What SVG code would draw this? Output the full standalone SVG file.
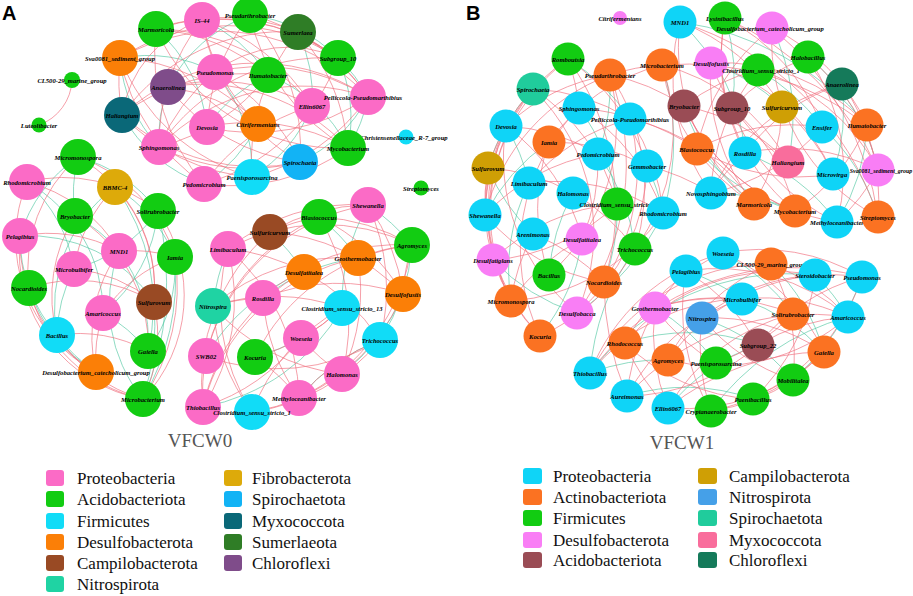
<svg xmlns="http://www.w3.org/2000/svg" width="913" height="596" viewBox="0 0 913 596">
<style>
.ep path{fill:none;stroke:#f0707f;stroke-width:0.9;opacity:0.75}
.eg path{fill:none;stroke:#4cc6a0;stroke-width:0.9;opacity:0.7}
.n text{font-family:"Liberation Serif",serif;font-style:italic;font-weight:bold;font-size:6.6px;fill:#000;text-anchor:middle}
.n text.sm{font-size:5.9px}
.lg text{font-family:"Liberation Serif",serif;font-size:17px;fill:#111}
.ttl{font-family:"Liberation Serif",serif;font-size:19px;fill:#555;text-anchor:middle}
.pl{font-family:"Liberation Sans",Arial,sans-serif;font-size:20px;font-weight:bold;fill:#000}
.ap{fill:#fb6bc6}.aa{fill:#12cc12}.af{fill:#11dcf7}.ad{fill:#fb7f07}.ac{fill:#994a24}.an{fill:#1fd3a3}.afi{fill:#ddaa0a}.as{fill:#12b3f5}.am{fill:#0a6878}.asu{fill:#2f7d26}.ach{fill:#7f4c8a}
.bp{fill:#0fd4f7}.bac{fill:#fb7222}.bf{fill:#12cc12}.bd{fill:#f97ef5}.bab{fill:#9a4c55}.bc{fill:#cf9f05}.bn{fill:#45a0e8}.bs{fill:#20cc9c}.bm{fill:#f96d9c}.bch{fill:#157a5a}
</style>
<rect width="913" height="596" fill="#fff"/>
<text class="pl" x="2" y="20">A</text>
<text class="pl" x="466" y="20">B</text>
<g id="connectors">
<g class="eg">
<path d="M156 29A150 150 0 0 1 207 127"/><path d="M120 58A150 150 0 0 1 215 72"/><path d="M202 20A150 150 0 0 1 268 75"/><path d="M250 15A150 150 0 0 0 168 87"/><path d="M298 32A150 150 0 0 1 312 106"/><path d="M338 58A150 150 0 0 1 368 97"/><path d="M338 58A150 150 0 0 1 348 148"/><path d="M368 97A150 150 0 0 1 348 148"/><path d="M368 97A150 150 0 0 1 300 162"/><path d="M312 106A150 150 0 0 1 252 177"/><path d="M258 124A150 150 0 0 1 204 184"/><path d="M168 87A150 150 0 0 0 159 147"/><path d="M122 115A150 150 0 0 0 204 184"/><path d="M207 127A150 150 0 0 1 268 75"/><path d="M268 75A150 150 0 0 1 348 148"/><path d="M250 15A150 150 0 0 1 338 58"/><path d="M215 72A150 150 0 0 1 252 177"/><path d="M120 58A150 150 0 0 0 159 147"/>
<path d="M78 157A150 150 0 0 1 158 211"/><path d="M78 157A150 150 0 0 0 75 216"/><path d="M115 187A150 150 0 0 1 175 257"/><path d="M27 182A150 150 0 0 1 103 313"/><path d="M20 236A150 150 0 0 1 154 302"/><path d="M75 216A150 150 0 0 1 119 251"/><path d="M74 269A150 150 0 0 0 57 335"/><path d="M29 288A150 150 0 0 0 96 372"/><path d="M119 251A150 150 0 0 1 148 351"/><path d="M158 211A150 150 0 0 1 103 313"/><path d="M175 257A150 150 0 0 1 148 351"/><path d="M175 257A250 250 0 0 1 143 399"/><path d="M154 302A250 250 0 0 1 143 399"/><path d="M57 335A150 150 0 0 0 96 372"/><path d="M78 157A150 150 0 0 0 20 236"/><path d="M115 187A150 150 0 0 0 57 335"/><path d="M27 182A150 150 0 0 1 74 269"/><path d="M119 251A150 150 0 0 0 143 399"/><path d="M103 313A150 150 0 0 1 148 351"/><path d="M158 211A150 150 0 0 1 74 269"/><path d="M20 236A150 150 0 0 0 57 335"/><path d="M158 211A300 300 0 0 1 143 399"/><path d="M115 187A200 200 0 0 1 148 351"/>
<path d="M368 205A200 200 0 0 1 412 245"/><path d="M319 217A200 200 0 0 1 358 258"/><path d="M270 232A200 200 0 0 1 304 272"/><path d="M412 245A200 200 0 0 1 380 340"/><path d="M403 294A200 200 0 0 1 342 374"/><path d="M358 258A200 200 0 0 0 263 298"/><path d="M342 308A200 200 0 0 1 203 407"/><path d="M304 272A200 200 0 0 0 206 356"/><path d="M228 249A200 200 0 0 0 213 306"/><path d="M299 398A200 200 0 0 1 380 340"/><path d="M255 357A200 200 0 0 0 301 338"/><path d="M368 205A200 200 0 0 0 342 308"/>
<path d="M568 59A200 200 0 0 1 630 119"/><path d="M533 89A200 200 0 0 0 488 168"/><path d="M579 108A200 200 0 0 1 617 204"/><path d="M506 126A200 200 0 0 1 529 183"/><path d="M549 142A200 200 0 0 0 485 215"/><path d="M598 154A200 200 0 0 1 635 249"/><path d="M488 168A200 200 0 0 0 533 234"/><path d="M529 183A200 200 0 0 0 511 301"/><path d="M573 193A200 200 0 0 0 549 275"/><path d="M617 204A200 200 0 0 1 604 282"/><path d="M647 166A200 200 0 0 1 663 213"/><path d="M582 239A200 200 0 0 1 540 336"/><path d="M610 75A200 200 0 0 1 598 154"/><path d="M662 65A250 250 0 0 1 663 213"/><path d="M493 260A200 200 0 0 0 577 313"/><path d="M663 213A250 250 0 0 1 577 313"/>
<path d="M680 22A200 200 0 0 1 745 153"/><path d="M725 18A200 200 0 0 1 732 108"/><path d="M772 28A200 200 0 0 1 788 162"/><path d="M711 63A200 200 0 0 1 782 107"/><path d="M808 57A200 200 0 0 1 878 170"/><path d="M842 84A200 200 0 0 1 833 174"/><path d="M684 106A200 200 0 0 0 754 204"/><path d="M822 127A200 200 0 0 1 878 217"/><path d="M697 149A200 200 0 0 0 795 211"/><path d="M867 125A200 200 0 0 1 837 222"/><path d="M758 70A200 200 0 0 1 822 127"/><path d="M680 22A300 300 0 0 1 867 125"/><path d="M745 153A200 200 0 0 1 837 222"/><path d="M711 193A200 200 0 0 1 795 211"/>
<path d="M686 271A200 200 0 0 1 742 299"/><path d="M723 253A200 200 0 0 1 793 314"/><path d="M771 264A200 200 0 0 1 824 352"/><path d="M815 275A200 200 0 0 1 848 317"/><path d="M655 308A200 200 0 0 1 716 363"/><path d="M702 318A200 200 0 0 1 793 380"/><path d="M625 343A200 200 0 0 1 758 345"/><path d="M590 373A200 200 0 0 1 668 360"/><path d="M627 396A200 200 0 0 1 753 399"/><path d="M668 408A200 200 0 0 1 758 345"/><path d="M742 299A200 200 0 0 1 824 352"/><path d="M862 277A250 250 0 0 1 793 380"/><path d="M590 373A250 250 0 0 1 815 275"/><path d="M711 411A250 250 0 0 1 848 317"/><path d="M635 249A250 250 0 0 0 590 373"/>
</g>
<g class="ep">
<path d="M72 80A50 50 0 0 1 39 125"/>
<path d="M202 20A200 200 0 0 1 338 58"/><path d="M202 20A200 200 0 0 1 312 106"/><path d="M250 15A200 200 0 0 1 368 97"/><path d="M156 29A200 200 0 0 1 298 32"/><path d="M156 29A200 200 0 0 1 268 75"/><path d="M120 58A200 200 0 0 1 338 58"/><path d="M120 58A200 200 0 0 1 258 124"/><path d="M120 58A200 200 0 0 0 204 184"/><path d="M168 87A200 200 0 0 1 312 106"/><path d="M168 87A200 200 0 0 1 348 148"/><path d="M168 87A200 200 0 0 0 300 162"/><path d="M215 72A200 200 0 0 1 368 97"/><path d="M215 72A200 200 0 0 0 159 147"/><path d="M215 72A200 200 0 0 1 300 162"/><path d="M122 115A200 200 0 0 1 298 32"/><path d="M122 115A200 200 0 0 0 252 177"/><path d="M122 115A200 200 0 0 1 268 75"/><path d="M207 127A200 200 0 0 1 348 148"/><path d="M207 127A200 200 0 0 1 250 15"/><path d="M159 147A200 200 0 0 1 202 20"/><path d="M159 147A200 200 0 0 0 300 162"/><path d="M159 147A200 200 0 0 1 338 58"/><path d="M204 184A200 200 0 0 1 156 29"/><path d="M204 184A200 200 0 0 1 312 106"/><path d="M204 184A200 200 0 0 0 348 148"/><path d="M252 177A200 200 0 0 1 120 58"/><path d="M252 177A200 200 0 0 0 368 97"/><path d="M300 162A200 200 0 0 1 202 20"/><path d="M300 162A200 200 0 0 1 122 115"/><path d="M348 148A200 200 0 0 1 250 15"/><path d="M348 148A200 200 0 0 1 156 29"/><path d="M368 97A200 200 0 0 0 298 32"/><path d="M368 97A200 200 0 0 1 207 127"/><path d="M312 106A200 200 0 0 0 156 29"/><path d="M338 58A200 200 0 0 1 204 184"/><path d="M298 32A200 200 0 0 1 348 148"/><path d="M258 124A200 200 0 0 0 168 87"/><path d="M258 124A200 200 0 0 1 202 20"/><path d="M268 75A200 200 0 0 1 159 147"/><path d="M250 15A200 200 0 0 1 300 162"/><path d="M202 20A120 120 0 0 0 122 115"/><path d="M215 72A120 120 0 0 1 338 58"/><path d="M120 58A200 200 0 0 1 368 97"/><path d="M122 115A200 200 0 0 1 368 97"/><path d="M159 147A200 200 0 0 1 368 97"/><path d="M156 29A200 200 0 0 1 338 58"/><path d="M120 58A200 200 0 0 0 122 115"/><path d="M298 32A200 200 0 0 0 252 177"/>
<path d="M27 182A150 150 0 0 1 158 211"/><path d="M27 182A150 150 0 0 0 96 372"/><path d="M20 236A150 150 0 0 1 119 251"/><path d="M20 236A150 150 0 0 0 143 399"/><path d="M78 157A150 150 0 0 1 175 257"/><path d="M78 157A150 150 0 0 0 29 288"/><path d="M115 187A150 150 0 0 1 154 302"/><path d="M75 216A150 150 0 0 0 57 335"/><path d="M75 216A150 150 0 0 1 148 351"/><path d="M119 251A150 150 0 0 0 96 372"/><path d="M119 251A150 150 0 0 1 175 257"/><path d="M74 269A150 150 0 0 1 154 302"/><path d="M29 288A150 150 0 0 0 143 399"/><path d="M103 313A150 150 0 0 1 175 257"/><path d="M57 335A150 150 0 0 1 148 351"/><path d="M154 302A150 150 0 0 1 143 399"/><path d="M158 211A150 150 0 0 1 143 399"/><path d="M20 236A150 150 0 0 0 96 372"/><path d="M27 182A150 150 0 0 1 119 251"/><path d="M78 157A150 150 0 0 1 154 302"/><path d="M175 257A200 200 0 0 1 143 399"/><path d="M115 187A150 150 0 0 0 74 269"/><path d="M29 288A150 150 0 0 1 154 302"/><path d="M57 335A150 150 0 0 0 143 399"/><path d="M103 313A150 150 0 0 0 96 372"/>
<path d="M368 205A200 200 0 0 1 380 340"/><path d="M368 205A200 200 0 0 0 228 249"/><path d="M319 217A200 200 0 0 1 342 374"/><path d="M319 217A200 200 0 0 0 206 356"/><path d="M270 232A200 200 0 0 1 403 294"/><path d="M270 232A200 200 0 0 0 203 407"/><path d="M228 249A200 200 0 0 1 412 245"/><path d="M228 249A200 200 0 0 0 252 412"/><path d="M412 245A200 200 0 0 1 299 398"/><path d="M412 245A200 200 0 0 0 263 298"/><path d="M358 258A200 200 0 0 1 342 374"/><path d="M358 258A200 200 0 0 0 213 306"/><path d="M304 272A200 200 0 0 1 380 340"/><path d="M304 272A200 200 0 0 0 203 407"/><path d="M403 294A200 200 0 0 1 252 412"/><path d="M403 294A200 200 0 0 0 319 217"/><path d="M263 298A200 200 0 0 0 299 398"/><path d="M213 306A200 200 0 0 1 342 308"/><path d="M342 308A200 200 0 0 1 255 357"/><path d="M301 338A200 200 0 0 1 203 407"/><path d="M380 340A200 200 0 0 1 206 356"/><path d="M206 356A200 200 0 0 1 368 205"/><path d="M255 357A200 200 0 0 1 412 245"/><path d="M342 374A200 200 0 0 1 213 306"/><path d="M299 398A200 200 0 0 0 228 249"/><path d="M203 407A200 200 0 0 1 358 258"/><path d="M252 412A200 200 0 0 1 342 308"/><path d="M252 412A200 200 0 0 0 380 340"/><path d="M270 232A200 200 0 0 1 368 205"/><path d="M319 217A200 200 0 0 1 412 245"/><path d="M228 249A200 200 0 0 1 304 272"/><path d="M213 306A200 200 0 0 0 252 412"/><path d="M263 298A200 200 0 0 1 403 294"/><path d="M301 338A200 200 0 0 0 342 374"/><path d="M255 357A200 200 0 0 1 299 398"/><path d="M206 356A200 200 0 0 0 203 407"/><path d="M368 205A200 200 0 0 1 403 294"/><path d="M358 258A200 200 0 0 1 412 245"/><path d="M319 217A200 200 0 0 0 270 232"/><path d="M342 308A200 200 0 0 1 301 338"/><path d="M228 249A200 200 0 0 1 203 407"/><path d="M380 340A200 200 0 0 0 299 398"/><path d="M412 245A200 200 0 0 0 403 294"/><path d="M263 298A200 200 0 0 0 213 306"/>
<path d="M568 59A200 200 0 0 1 647 166"/><path d="M568 59A200 200 0 0 0 488 168"/><path d="M568 59A200 200 0 0 0 493 260"/><path d="M610 75A200 200 0 0 1 635 249"/><path d="M610 75A200 200 0 0 0 485 215"/><path d="M533 89A200 200 0 0 1 630 119"/><path d="M533 89A200 200 0 0 0 511 301"/><path d="M533 89A200 200 0 0 1 617 204"/><path d="M579 108A200 200 0 0 1 663 213"/><path d="M579 108A200 200 0 0 0 540 336"/><path d="M506 126A200 200 0 0 1 610 75"/><path d="M506 126A200 200 0 0 0 577 313"/><path d="M506 126A200 200 0 0 1 598 154"/><path d="M630 119A200 200 0 0 1 604 282"/><path d="M630 119A200 200 0 0 0 529 183"/><path d="M549 142A200 200 0 0 1 647 166"/><path d="M549 142A200 200 0 0 0 549 275"/><path d="M598 154A200 200 0 0 1 582 239"/><path d="M488 168A200 200 0 0 1 573 193"/><path d="M488 168A200 200 0 0 0 540 336"/><path d="M647 166A200 200 0 0 1 577 313"/><path d="M529 183A200 200 0 0 1 663 213"/><path d="M573 193A200 200 0 0 1 635 249"/><path d="M617 204A200 200 0 0 1 493 260"/><path d="M485 215A200 200 0 0 1 598 154"/><path d="M663 213A200 200 0 0 1 511 301"/><path d="M533 234A200 200 0 0 1 604 282"/><path d="M582 239A200 200 0 0 0 506 126"/><path d="M635 249A200 200 0 0 1 540 336"/><path d="M493 260A200 200 0 0 1 617 204"/><path d="M549 275A200 200 0 0 0 610 75"/><path d="M604 282A200 200 0 0 1 485 215"/><path d="M511 301A200 200 0 0 1 582 239"/><path d="M577 313A200 200 0 0 0 533 89"/><path d="M540 336A200 200 0 0 1 493 260"/><path d="M568 59A200 200 0 0 1 579 108"/><path d="M610 75A200 200 0 0 1 662 65"/><path d="M506 126A200 200 0 0 0 485 215"/><path d="M488 168A200 200 0 0 0 493 260"/><path d="M533 234A200 200 0 0 0 511 301"/><path d="M630 119A200 200 0 0 1 663 213"/><path d="M662 65A200 200 0 0 1 635 249"/><path d="M662 65A200 200 0 0 0 549 142"/><path d="M610 75A250 250 0 0 1 577 313"/><path d="M568 59A250 250 0 0 1 604 282"/><path d="M533 89A200 200 0 0 0 485 215"/><path d="M506 126A200 200 0 0 0 511 301"/>
<path d="M680 22A200 200 0 0 1 782 107"/><path d="M680 22A200 200 0 0 0 711 193"/><path d="M725 18A200 200 0 0 1 822 127"/><path d="M725 18A200 200 0 0 0 745 153"/><path d="M772 28A200 200 0 0 1 867 125"/><path d="M772 28A200 200 0 0 0 697 149"/><path d="M711 63A200 200 0 0 1 833 174"/><path d="M711 63A200 200 0 0 0 754 204"/><path d="M758 70A200 200 0 0 1 878 170"/><path d="M758 70A200 200 0 0 0 684 106"/><path d="M808 57A200 200 0 0 1 837 222"/><path d="M808 57A200 200 0 0 0 732 108"/><path d="M842 84A200 200 0 0 1 878 217"/><path d="M842 84A200 200 0 0 0 745 153"/><path d="M684 106A200 200 0 0 1 788 162"/><path d="M732 108A200 200 0 0 1 795 211"/><path d="M782 107A200 200 0 0 1 754 204"/><path d="M822 127A200 200 0 0 1 711 193"/><path d="M867 125A200 200 0 0 1 795 211"/><path d="M697 149A200 200 0 0 1 822 127"/><path d="M745 153A200 200 0 0 1 878 170"/><path d="M788 162A200 200 0 0 1 711 63"/><path d="M833 174A200 200 0 0 1 697 149"/><path d="M878 170A200 200 0 0 1 837 222"/><path d="M711 193A200 200 0 0 1 842 84"/><path d="M754 204A200 200 0 0 1 680 22"/><path d="M795 211A200 200 0 0 1 725 18"/><path d="M837 222A200 200 0 0 1 684 106"/><path d="M878 217A200 200 0 0 1 772 28"/><path d="M680 22A300 300 0 0 1 878 217"/><path d="M725 18A300 300 0 0 1 878 170"/><path d="M662 65A200 200 0 0 1 788 162"/><path d="M662 65A200 200 0 0 0 754 204"/><path d="M684 106A200 200 0 0 0 795 211"/><path d="M711 63A200 200 0 0 1 867 125"/><path d="M732 108A200 200 0 0 0 837 222"/><path d="M808 57A200 200 0 0 1 878 170"/><path d="M758 70A200 200 0 0 0 711 193"/><path d="M782 107A200 200 0 0 1 833 174"/><path d="M745 153A200 200 0 0 0 711 193"/><path d="M630 119A200 200 0 0 1 754 204"/><path d="M610 75A200 200 0 0 1 684 106"/><path d="M647 166A200 200 0 0 1 711 193"/><path d="M579 108A250 250 0 0 1 697 149"/><path d="M772 28A300 300 0 0 1 878 217"/><path d="M662 65A300 300 0 0 1 867 125"/>
<path d="M686 271A200 200 0 0 1 848 317"/><path d="M686 271A200 200 0 0 0 627 396"/><path d="M723 253A200 200 0 0 1 824 352"/><path d="M723 253A200 200 0 0 0 625 343"/><path d="M771 264A200 200 0 0 1 793 380"/><path d="M771 264A200 200 0 0 0 668 360"/><path d="M815 275A200 200 0 0 1 753 399"/><path d="M815 275A200 200 0 0 0 702 318"/><path d="M862 277A200 200 0 0 1 711 411"/><path d="M862 277A200 200 0 0 0 758 345"/><path d="M655 308A200 200 0 0 1 793 314"/><path d="M655 308A200 200 0 0 0 668 408"/><path d="M742 299A200 200 0 0 1 848 317"/><path d="M742 299A200 200 0 0 0 590 373"/><path d="M793 314A200 200 0 0 1 716 363"/><path d="M848 317A200 200 0 0 1 668 360"/><path d="M702 318A200 200 0 0 1 824 352"/><path d="M625 343A200 200 0 0 1 815 275"/><path d="M758 345A200 200 0 0 1 627 396"/><path d="M824 352A200 200 0 0 1 668 408"/><path d="M668 360A200 200 0 0 1 862 277"/><path d="M716 363A200 200 0 0 1 655 308"/><path d="M590 373A200 200 0 0 1 771 264"/><path d="M793 380A200 200 0 0 1 702 318"/><path d="M627 396A200 200 0 0 1 742 299"/><path d="M753 399A200 200 0 0 1 625 343"/><path d="M668 408A200 200 0 0 1 793 314"/><path d="M711 411A200 200 0 0 1 686 271"/><path d="M590 373A200 200 0 0 1 723 253"/><path d="M590 373A250 250 0 0 1 862 277"/><path d="M627 396A250 250 0 0 1 848 317"/><path d="M668 408A250 250 0 0 1 824 352"/><path d="M711 411A200 200 0 0 0 793 380"/><path d="M753 399A200 200 0 0 0 824 352"/><path d="M686 271A200 200 0 0 1 758 345"/><path d="M655 308A200 200 0 0 1 742 299"/><path d="M723 253A200 200 0 0 1 862 277"/><path d="M771 264A200 200 0 0 1 848 317"/><path d="M702 318A200 200 0 0 0 711 411"/><path d="M758 345A200 200 0 0 1 848 317"/><path d="M625 343A200 200 0 0 0 668 408"/><path d="M604 282A300 300 0 0 0 627 396"/>
</g>
</g>
<g class="n">
<g id="a-is44"><circle class="ap" cx="202" cy="20" r="18"/><text x="202" y="22.5">IS-44</text></g>
<g id="a-pseudarthrobacter"><circle class="aa" cx="250" cy="15" r="18"/><text x="250" y="17.5">Pseudarthrobacter</text></g>
<g id="a-marmoricola"><circle class="aa" cx="156" cy="29" r="18"/><text x="156" y="31.5">Marmoricola</text></g>
<g id="a-sumerlaea"><circle class="asu" cx="298" cy="32" r="18"/><text x="298" y="34.5">Sumerlaea</text></g>
<g id="a-sva0081"><circle class="ad" cx="120" cy="58" r="18"/><text x="120" y="60.5">Sva0081_sediment_group</text></g>
<g id="a-subgroup10"><circle class="aa" cx="338" cy="58" r="18"/><text x="338" y="60.5">Subgroup_10</text></g>
<g id="a-pseudomonas"><circle class="ap" cx="215" cy="72" r="18"/><text x="215" y="74.5">Pseudomonas</text></g>
<g id="a-ilumatobacter"><circle class="aa" cx="268" cy="75" r="18"/><text x="268" y="77.5">Ilumatobacter</text></g>
<g id="a-anaerolinea"><circle class="ach" cx="168" cy="87" r="18"/><text x="168" y="89.5">Anaerolinea</text></g>
<g id="a-cl500"><circle class="aa" cx="72" cy="80" r="8"/><text x="72" y="82.5">CL500-29_marine_group</text></g>
<g id="a-luteolibacter"><circle class="aa" cx="39" cy="125" r="7.5"/><text x="39" y="127.5">Luteolibacter</text></g>
<g id="a-ellin6067"><circle class="ap" cx="312" cy="106" r="18"/><text x="312" y="108.5">Ellin6067</text></g>
<g id="a-pelliccola"><circle class="ap" cx="368" cy="97" r="18"/><text x="363" y="99.5">Pelliccola-Pseudomarthibius</text></g>
<g id="a-haliangium"><circle class="am" cx="122" cy="115" r="18"/><text x="122" y="117.5">Haliangium</text></g>
<g id="a-devosia"><circle class="ap" cx="207" cy="127" r="18"/><text x="207" y="129.5">Devosia</text></g>
<g id="a-citrifermentans"><circle class="ad" cx="258" cy="124" r="18"/><text x="258" y="126.5">Citrifermentans</text></g>
<g id="a-christensenellaceae"><circle class="af" cx="406" cy="137" r="7.5"/><text x="404" y="139.5">Christensenellaceae_R-7_group</text></g>
<g id="a-mycobacterium"><circle class="aa" cx="348" cy="148" r="18"/><text x="348" y="150.5">Mycobacterium</text></g>
<g id="a-sphingomonas"><circle class="ap" cx="159" cy="147" r="18"/><text x="159" y="149.5">Sphingomonas</text></g>
<g id="a-spirochaeta"><circle class="as" cx="300" cy="162" r="18"/><text x="300" y="164.5">Spirochaeta</text></g>
<g id="a-paenisporosarcina"><circle class="af" cx="252" cy="177" r="18"/><text x="252" y="179.5">Paenisporosarcina</text></g>
<g id="a-pedomicrobium"><circle class="ap" cx="204" cy="184" r="18"/><text x="204" y="186.5">Pedomicrobium</text></g>
<g id="a-streptomyces"><circle class="aa" cx="421" cy="188" r="7.5"/><text x="421" y="190.5">Streptomyces</text></g>
<g id="a-micromonospora"><circle class="aa" cx="78" cy="157" r="18"/><text x="78" y="159.5">Micromonospora</text></g>
<g id="a-bbmc4"><circle class="afi" cx="115" cy="187" r="18"/><text x="115" y="189.5">BBMC-4</text></g>
<g id="a-rhodomicrobium"><circle class="ap" cx="27" cy="182" r="18"/><text x="27" y="184.5">Rhodomicrobium</text></g>
<g id="a-bryobacter"><circle class="aa" cx="75" cy="216" r="18"/><text x="75" y="218.5">Bryobacter</text></g>
<g id="a-solirubrobacter"><circle class="aa" cx="158" cy="211" r="18"/><text x="158" y="213.5">Solirubrobacter</text></g>
<g id="a-pelagibius"><circle class="ap" cx="20" cy="236" r="18"/><text x="20" y="238.5">Pelagibius</text></g>
<g id="a-mnd1"><circle class="ap" cx="119" cy="251" r="18"/><text x="119" y="253.5">MND1</text></g>
<g id="a-iamia"><circle class="aa" cx="175" cy="257" r="18"/><text x="175" y="259.5">Iamia</text></g>
<g id="a-microbulbifer"><circle class="ap" cx="74" cy="269" r="18"/><text x="74" y="271.5">Microbulbifer</text></g>
<g id="a-nocardioides"><circle class="aa" cx="29" cy="288" r="18"/><text x="29" y="290.5">Nocardioides</text></g>
<g id="a-sulfurovum"><circle class="ac" cx="154" cy="302" r="18"/><text x="154" y="304.5">Sulfurovum</text></g>
<g id="a-amaricoccus"><circle class="ap" cx="103" cy="313" r="18"/><text x="103" y="315.5">Amaricoccus</text></g>
<g id="a-bacillus"><circle class="af" cx="57" cy="335" r="18"/><text x="57" y="337.5">Bacillus</text></g>
<g id="a-gaiella"><circle class="aa" cx="148" cy="351" r="18"/><text x="148" y="353.5">Gaiella</text></g>
<g id="a-desulfobacterium"><circle class="ad" cx="96" cy="372" r="18"/><text x="96" y="374.5">Desulfobacterium_catecholicum_group</text></g>
<g id="a-microbacterium"><circle class="aa" cx="143" cy="399" r="18"/><text x="143" y="401.5">Microbacterium</text></g>
<g id="a-shewanella"><circle class="ap" cx="368" cy="205" r="18"/><text x="368" y="207.5">Shewanella</text></g>
<g id="a-blastococcus"><circle class="aa" cx="319" cy="217" r="18"/><text x="319" y="219.5">Blastococcus</text></g>
<g id="a-sulfuricurvum"><circle class="ac" cx="270" cy="232" r="18"/><text x="270" y="234.5">Sulfuricurvum</text></g>
<g id="a-limibaculum"><circle class="ap" cx="228" cy="249" r="18"/><text x="228" y="251.5">Limibaculum</text></g>
<g id="a-agromyces"><circle class="aa" cx="412" cy="245" r="18"/><text x="412" y="247.5">Agromyces</text></g>
<g id="a-geothermobacter"><circle class="ad" cx="358" cy="258" r="18"/><text x="358" y="260.5">Geothermobacter</text></g>
<g id="a-desulfatitalea"><circle class="ad" cx="304" cy="272" r="18"/><text x="304" y="274.5">Desulfatitalea</text></g>
<g id="a-desulfofustis"><circle class="ad" cx="403" cy="294" r="18"/><text x="403" y="296.5">Desulfofustis</text></g>
<g id="a-rosdilla"><circle class="ap" cx="263" cy="298" r="18"/><text x="263" y="300.5">Rosdilla</text></g>
<g id="a-nitrospira"><circle class="an" cx="213" cy="306" r="18"/><text x="213" y="308.5">Nitrospira</text></g>
<g id="a-clostridium13"><circle class="af" cx="342" cy="308" r="18"/><text x="342" y="310.5">Clostridium_sensu_stricto_13</text></g>
<g id="a-woeseia"><circle class="ap" cx="301" cy="338" r="18"/><text x="301" y="340.5">Woeseia</text></g>
<g id="a-trichococcus"><circle class="af" cx="380" cy="340" r="18"/><text x="380" y="342.5">Trichococcus</text></g>
<g id="a-swb02"><circle class="ap" cx="206" cy="356" r="18"/><text x="206" y="358.5">SWB02</text></g>
<g id="a-kocuria"><circle class="aa" cx="255" cy="357" r="18"/><text x="255" y="359.5">Kocuria</text></g>
<g id="a-halomonas"><circle class="ap" cx="342" cy="374" r="18"/><text x="342" y="376.5">Halomonas</text></g>
<g id="a-methyloceanibacter"><circle class="ap" cx="299" cy="398" r="18"/><text x="299" y="400.5">Methyloceanibacter</text></g>
<g id="a-thiobacillus"><circle class="ap" cx="203" cy="407" r="18"/><text x="203" y="409.5">Thiobacillus</text></g>
<g id="a-clostridium1"><circle class="af" cx="252" cy="412" r="18"/><text x="252" y="414.5">Clostridium_sensu_stricto_1</text></g>

<g id="b-citrifermentans"><circle class="bd" cx="620" cy="18" r="7"/><text x="620" y="20.5">Citrifermentans</text></g>
<g id="b-mnd1"><circle class="bp" cx="680" cy="22" r="16.5"/><text x="680" y="24.5">MND1</text></g>
<g id="b-lysinibacillus"><circle class="bf" cx="725" cy="18" r="16.5"/><text x="725" y="20.5">Lysinibacillus</text></g>
<g id="b-desulfobacterium"><circle class="bd" cx="772" cy="28" r="16.5"/><text x="770" y="30.5">Desulfobacterium_catecholicum_group</text></g>
<g id="b-romboutsia"><circle class="bf" cx="568" cy="59" r="16.5"/><text x="568" y="61.5">Romboutsia</text></g>
<g id="b-pseudarthrobacter"><circle class="bac" cx="610" cy="75" r="16.5"/><text x="610" y="77.5">Pseudarthrobacter</text></g>
<g id="b-microbacterium"><circle class="bac" cx="662" cy="65" r="16.5"/><text x="662" y="67.5">Microbacterium</text></g>
<g id="b-desulfofustis"><circle class="bd" cx="711" cy="63" r="16.5"/><text x="711" y="65.5">Desulfofustis</text></g>
<g id="b-clostridium1"><circle class="bf" cx="758" cy="70" r="16.5"/><text x="761" y="72.5">Clostridium_sensu_stricto_1</text></g>
<g id="b-halobacillus"><circle class="bf" cx="808" cy="57" r="16.5"/><text x="808" y="59.5">Halobacillus</text></g>
<g id="b-anaerolinea"><circle class="bch" cx="842" cy="84" r="16.5"/><text x="842" y="86.5">Anaerolinea</text></g>
<g id="b-spirochaeta"><circle class="bs" cx="533" cy="89" r="16.5"/><text x="533" y="91.5">Spirochaeta</text></g>
<g id="b-sphingomonas"><circle class="bp" cx="579" cy="108" r="16.5"/><text x="579" y="110.5">Sphingomonas</text></g>
<g id="b-bryobacter"><circle class="bab" cx="684" cy="106" r="16.5"/><text x="684" y="108.5">Bryobacter</text></g>
<g id="b-subgroup10"><circle class="bab" cx="732" cy="108" r="16.5"/><text x="732" y="110.5">Subgroup_10</text></g>
<g id="b-sulfuricurvum"><circle class="bc" cx="782" cy="107" r="16.5"/><text x="782" y="109.5">Sulfuricurvum</text></g>
<g id="b-ensifer"><circle class="bp" cx="822" cy="127" r="16.5"/><text x="822" y="129.5">Ensifer</text></g>
<g id="b-ilumatobacter"><circle class="bac" cx="867" cy="125" r="16.5"/><text x="867" y="127.5">Ilumatobacter</text></g>
<g id="b-devosia"><circle class="bp" cx="506" cy="126" r="16.5"/><text x="506" y="128.5">Devosia</text></g>
<g id="b-pelliccola"><circle class="bp" cx="630" cy="119" r="16.5"/><text x="630" y="121.5">Pelliccola-Pseudomarthibius</text></g>
<g id="b-iamia"><circle class="bac" cx="549" cy="142" r="16.5"/><text x="549" y="144.5">Iamia</text></g>
<g id="b-blastococcus"><circle class="bac" cx="697" cy="149" r="16.5"/><text x="697" y="151.5">Blastococcus</text></g>
<g id="b-rosdilla"><circle class="bp" cx="745" cy="153" r="16.5"/><text x="745" y="155.5">Rosdilla</text></g>
<g id="b-haliangium"><circle class="bm" cx="788" cy="162" r="16.5"/><text x="788" y="164.5">Haliangium</text></g>
<g id="b-microvirga"><circle class="bp" cx="833" cy="174" r="16.5"/><text x="832" y="176.5">Microvirga</text></g>
<g id="b-sva0081"><circle class="bd" cx="878" cy="170" r="16.5"/><text class="sm" x="881" y="172.5">Sva0081_sediment_group</text></g>
<g id="b-pedomicrobium"><circle class="bp" cx="598" cy="154" r="16.5"/><text x="598" y="156.5">Pedomicrobium</text></g>
<g id="b-sulfurovum"><circle class="bc" cx="488" cy="168" r="16.5"/><text x="488" y="170.5">Sulfurovum</text></g>
<g id="b-gemmobacter"><circle class="bp" cx="647" cy="166" r="16.5"/><text x="647" y="168.5">Gemmobacter</text></g>
<g id="b-novosphingobium"><circle class="bp" cx="711" cy="193" r="16.5"/><text x="711" y="195.5">Novosphingobium</text></g>
<g id="b-marmoricola"><circle class="bac" cx="754" cy="204" r="16.5"/><text x="754" y="206.5">Marmoricola</text></g>
<g id="b-mycobacterium"><circle class="bac" cx="795" cy="211" r="16.5"/><text x="795" y="213.5">Mycobacterium</text></g>
<g id="b-methyloceanibacter"><circle class="bp" cx="837" cy="222" r="16.5"/><text x="837" y="224.5">Methyloceanibacter</text></g>
<g id="b-streptomyces"><circle class="bac" cx="878" cy="217" r="16.5"/><text x="878" y="219.5">Streptomyces</text></g>
<g id="b-limibaculum"><circle class="bp" cx="529" cy="183" r="16.5"/><text x="529" y="185.5">Limibaculum</text></g>
<g id="b-halomonas"><circle class="bp" cx="573" cy="193" r="16.5"/><text x="573" y="195.5">Halomonas</text></g>
<g id="b-clostridium13"><circle class="bf" cx="617" cy="204" r="16.5"/><text x="620" y="206.5">Clostridium_sensu_stricto_13</text></g>
<g id="b-shewanella"><circle class="bp" cx="485" cy="215" r="16.5"/><text x="485" y="217.5">Shewanella</text></g>
<g id="b-rhodomicrobium"><circle class="bp" cx="663" cy="213" r="16.5"/><text x="663" y="215.5">Rhodomicrobium</text></g>
<g id="b-arenimonas"><circle class="bp" cx="533" cy="234" r="16.5"/><text x="533" y="236.5">Arenimonas</text></g>
<g id="b-desulfatitalea"><circle class="bd" cx="582" cy="239" r="16.5"/><text x="582" y="241.5">Desulfatitalea</text></g>
<g id="b-trichococcus"><circle class="bf" cx="635" cy="249" r="16.5"/><text x="635" y="251.5">Trichococcus</text></g>
<g id="b-desulfatiglans"><circle class="bd" cx="493" cy="260" r="16.5"/><text x="493" y="262.5">Desulfatiglans</text></g>
<g id="b-bacillus"><circle class="bf" cx="549" cy="275" r="16.5"/><text x="549" y="277.5">Bacillus</text></g>
<g id="b-nocardioides"><circle class="bac" cx="604" cy="282" r="16.5"/><text x="604" y="284.5">Nocardioides</text></g>
<g id="b-micromonospora"><circle class="bac" cx="511" cy="301" r="16.5"/><text x="511" y="303.5">Micromonospora</text></g>
<g id="b-desulfobacca"><circle class="bd" cx="577" cy="313" r="16.5"/><text x="577" y="315.5">Desulfobacca</text></g>
<g id="b-kocuria"><circle class="bac" cx="540" cy="336" r="16.5"/><text x="540" y="338.5">Kocuria</text></g>
<g id="b-pelagibius"><circle class="bp" cx="686" cy="271" r="16.5"/><text x="686" y="273.5">Pelagibius</text></g>
<g id="b-woeseia"><circle class="bp" cx="723" cy="253" r="16.5"/><text x="723" y="255.5">Woeseia</text></g>
<g id="b-cl500"><circle class="bac" cx="771" cy="264" r="16.5"/><text x="771" y="266.5">CL500-29_marine_group</text></g>
<g id="b-steroidobacter"><circle class="bp" cx="815" cy="275" r="16.5"/><text x="815" y="277.5">Steroidobacter</text></g>
<g id="b-pseudomonas"><circle class="bp" cx="862" cy="277" r="16.5"/><text x="862" y="279.5">Pseudomonas</text></g>
<g id="b-geothermobacter"><circle class="bd" cx="655" cy="308" r="16.5"/><text x="655" y="310.5">Geothermobacter</text></g>
<g id="b-microbulbifer"><circle class="bp" cx="742" cy="299" r="16.5"/><text x="742" y="301.5">Microbulbifer</text></g>
<g id="b-solirubrobacter"><circle class="bac" cx="793" cy="314" r="16.5"/><text x="793" y="316.5">Solirubrobacter</text></g>
<g id="b-amaricoccus"><circle class="bp" cx="848" cy="317" r="16.5"/><text x="848" y="319.5">Amaricoccus</text></g>
<g id="b-nitrospira"><circle class="bn" cx="702" cy="318" r="16.5"/><text x="702" y="320.5">Nitrospira</text></g>
<g id="b-rhodococcus"><circle class="bac" cx="625" cy="343" r="16.5"/><text x="625" y="345.5">Rhodococcus</text></g>
<g id="b-subgroup22"><circle class="bab" cx="758" cy="345" r="16.5"/><text x="758" y="347.5">Subgroup_22</text></g>
<g id="b-gaiella"><circle class="bac" cx="824" cy="352" r="16.5"/><text x="824" y="354.5">Gaiella</text></g>
<g id="b-agromyces"><circle class="bac" cx="668" cy="360" r="16.5"/><text x="668" y="362.5">Agromyces</text></g>
<g id="b-paenisporosarcina"><circle class="bf" cx="716" cy="363" r="16.5"/><text x="716" y="365.5">Paenisporosarcina</text></g>
<g id="b-thiobacillus"><circle class="bp" cx="590" cy="373" r="16.5"/><text x="590" y="375.5">Thiobacillus</text></g>
<g id="b-mobilitalea"><circle class="bf" cx="793" cy="380" r="16.5"/><text x="793" y="382.5">Mobilitalea</text></g>
<g id="b-aureimonas"><circle class="bp" cx="627" cy="396" r="16.5"/><text x="627" y="398.5">Aureimonas</text></g>
<g id="b-paenibacillus"><circle class="bf" cx="753" cy="399" r="16.5"/><text x="753" y="401.5">Paenibacillus</text></g>
<g id="b-ellin6067"><circle class="bp" cx="668" cy="408" r="16.5"/><text x="668" y="410.5">Ellin6067</text></g>
<g id="b-cryptanaerobacter"><circle class="bf" cx="711" cy="411" r="16.5"/><text x="711" y="413.5">Cryptanaerobacter</text></g>
</g>
<text class="ttl" x="200" y="447">VFCW0</text>
<text class="ttl" x="682" y="449">VFCW1</text>
<g id="legend-a" class="lg">
<rect x="46" y="470" width="18" height="16" rx="3" fill="#fb6bc6"/><text x="77" y="484">Proteobacteria</text>
<rect x="46" y="491" width="18" height="16" rx="3" fill="#12cc12"/><text x="77" y="505">Acidobacteriota</text>
<rect x="46" y="513" width="18" height="16" rx="3" fill="#11dcf7"/><text x="77" y="527">Firmicutes</text>
<rect x="46" y="534" width="18" height="16" rx="3" fill="#fb7f07"/><text x="77" y="548">Desulfobacterota</text>
<rect x="46" y="555" width="18" height="16" rx="3" fill="#994a24"/><text x="77" y="569">Campilobacterota</text>
<rect x="46" y="576" width="18" height="16" rx="3" fill="#1fd3a3"/><text x="77" y="590">Nitrospirota</text>
<rect x="224" y="470" width="18" height="16" rx="3" fill="#ddaa0a"/><text x="252" y="484">Fibrobacterota</text>
<rect x="224" y="491" width="18" height="16" rx="3" fill="#12b3f5"/><text x="252" y="505">Spirochaetota</text>
<rect x="224" y="513" width="18" height="16" rx="3" fill="#0a6878"/><text x="252" y="527">Myxococcota</text>
<rect x="224" y="534" width="18" height="16" rx="3" fill="#2f7d26"/><text x="252" y="548">Sumerlaeota</text>
<rect x="224" y="555" width="18" height="16" rx="3" fill="#7f4c8a"/><text x="252" y="569">Chloroflexi</text>
</g>
<g id="legend-b" class="lg">
<rect x="523" y="468" width="19" height="16" rx="3" fill="#0fd4f7"/><text x="553" y="482">Proteobacteria</text>
<rect x="523" y="489" width="19" height="16" rx="3" fill="#fb7222"/><text x="553" y="503">Actinobacteriota</text>
<rect x="523" y="510" width="19" height="16" rx="3" fill="#12cc12"/><text x="553" y="524">Firmicutes</text>
<rect x="523" y="532" width="19" height="16" rx="3" fill="#f97ef5"/><text x="553" y="546">Desulfobacterota</text>
<rect x="523" y="552" width="19" height="16" rx="3" fill="#9a4c55"/><text x="553" y="566">Acidobacteriota</text>
<rect x="698" y="468" width="19" height="16" rx="3" fill="#cf9f05"/><text x="729" y="482">Campilobacterota</text>
<rect x="698" y="489" width="19" height="16" rx="3" fill="#45a0e8"/><text x="729" y="503">Nitrospirota</text>
<rect x="698" y="510" width="19" height="16" rx="3" fill="#20cc9c"/><text x="729" y="524">Spirochaetota</text>
<rect x="698" y="532" width="19" height="16" rx="3" fill="#f96d9c"/><text x="729" y="546">Myxococcota</text>
<rect x="698" y="552" width="19" height="16" rx="3" fill="#157a5a"/><text x="729" y="566">Chloroflexi</text>
</g>
</svg>
